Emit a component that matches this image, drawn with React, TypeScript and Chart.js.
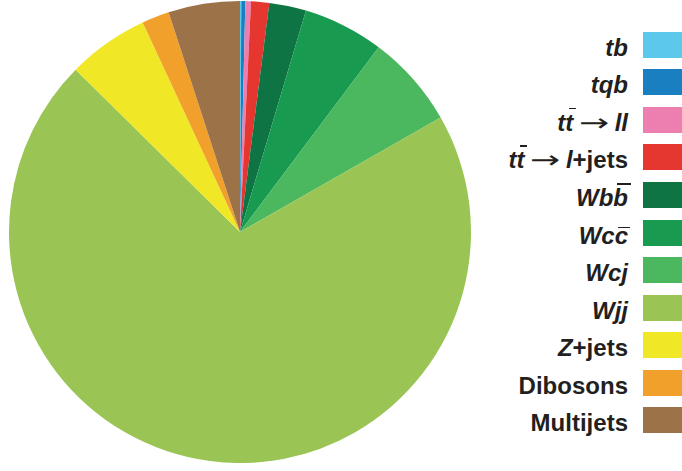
import React, { useEffect, useRef } from "react";
import { Chart, registerables } from "chart.js";

Chart.register(...registerables);

// Labels: '*' toggles italic, U+0304 (combining macron) puts a bar over the previous letter
const categories = [
  "*tb*",
  "*tqb*",
  "*tt\u0304 \u2192 ll*",
  "*tt\u0304 \u2192 l*+jets",
  "*Wbb\u0304*",
  "*Wcc\u0304*",
  "*Wcj*",
  "*Wjj*",
  "*Z*+jets",
  "Dibosons",
  "Multijets",
];

// Share of events (percent)
const shares = [0.09, 0.28, 0.39, 1.27, 2.58, 5.64, 6.5, 70.65, 5.68, 1.92, 5.0];

const colors = [
  "#5bc8ec",
  "#1a7fc1",
  "#ec7eb0",
  "#e63630",
  "#0e7444",
  "#189b50",
  "#4bb75e",
  "#9ac555",
  "#f0e827",
  "#f0a02b",
  "#9c7348",
];

const TEXT_COLOR = "#231f20";

function renderLabel(label: string) {
  const out: React.ReactNode[] = [];
  let italic = false;
  let key = 0;
  const chars = Array.from(label);
  for (let i = 0; i < chars.length; i++) {
    const c = chars[i];
    if (c === "*") {
      italic = !italic;
      continue;
    }
    if (c === "\u0304") continue;
    const bar = chars[i + 1] === "\u0304";
    if (c === "\u2192") {
      out.push(
        <span
          key={key++}
          style={{
            display: "inline-block",
            fontFamily: "'DejaVu Sans', sans-serif",
            fontWeight: 400,
            fontStyle: "normal",
            fontSize: 24,
            transform: "scaleX(1.5)",
            margin: "0 4px",
          }}
        >
          {c}
        </span>
      );
      continue;
    }
    if (bar) {
      const low = c === "c";
      out.push(
        <span
          key={key++}
          style={{
            position: "relative",
            display: "inline-block",
            fontStyle: italic ? "italic" : "normal",
          }}
        >
          {c}
          <span
            style={{
              position: "absolute",
              left: low ? 3 : 4,
              right: low ? -2 : -3,
              top: low ? 4 : -2,
              height: 1.6,
              background: TEXT_COLOR,
            }}
          />
        </span>
      );
      continue;
    }
    out.push(
      <span key={key++} style={{ fontStyle: italic ? "italic" : "normal" }}>
        {c}
      </span>
    );
  }
  return out;
}

export default function App() {
  const ref = useRef<HTMLCanvasElement>(null);

  useEffect(() => {
    if (!ref.current) return;
    const chart = new Chart(ref.current, {
      type: "pie",
      data: {
        labels: categories.map((c) => c.replace(/\*/g, "").replace(/\u0304/g, "")),
        datasets: [
          {
            data: shares,
            backgroundColor: colors,
            borderWidth: 0,
          },
        ],
      },
      options: {
        responsive: false,
        animation: false,
        devicePixelRatio: 1,
        layout: { padding: 0 },
        plugins: {
          legend: { display: false },
          tooltip: { enabled: false },
        },
      },
    });
    return () => chart.destroy();
  }, []);

  const step = 37.56;
  const firstCenter = 44.7;

  return (
    <div
      style={{
        position: "fixed",
        left: 0,
        top: 0,
        width: 682,
        height: 471,
        background: "#ffffff",
        overflow: "hidden",
        fontFamily: "'Liberation Sans', Arial, sans-serif",
      }}
    >
      <canvas
        ref={ref}
        width={462}
        height={462}
        style={{ position: "absolute", left: 9, top: 1, width: 462, height: 462 }}
      />
      {categories.map((c, i) => {
        const cy = firstCenter + i * step;
        return (
          <React.Fragment key={i}>
            <div
              style={{
                position: "absolute",
                right: 682 - 628,
                top: cy - 10,
                height: 26,
                lineHeight: "26px",
                fontSize: 24,
                fontWeight: 700,
                color: TEXT_COLOR,
                whiteSpace: "nowrap",
                textAlign: "right",
              }}
            >
              {renderLabel(c)}
            </div>
            <div
              style={{
                position: "absolute",
                left: 643,
                top: cy - 13,
                width: 39,
                height: 26,
                background: colors[i],
              }}
            />
          </React.Fragment>
        );
      })}
    </div>
  );
}
